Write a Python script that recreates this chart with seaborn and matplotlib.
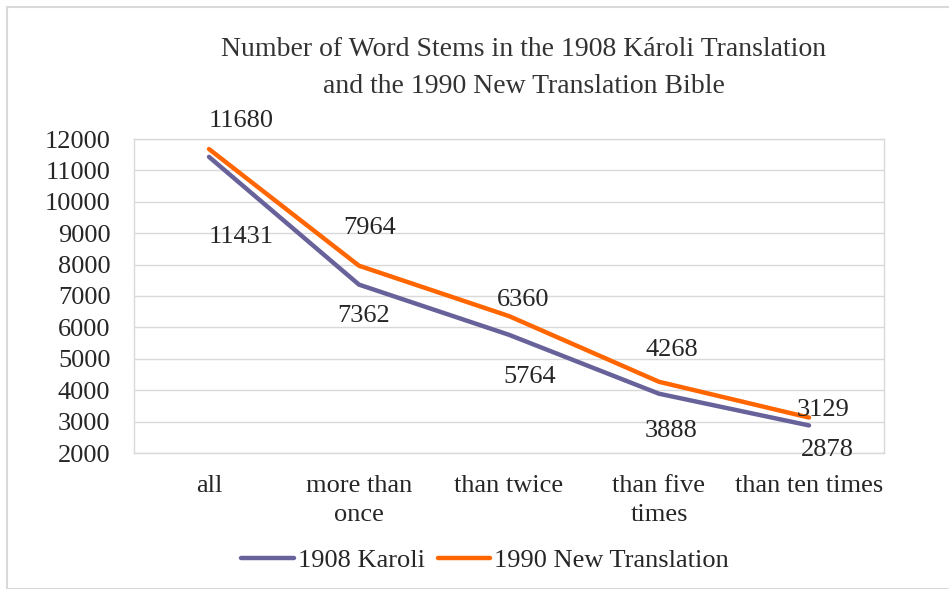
import pandas as pd
import matplotlib.pyplot as plt
import seaborn as sns
from matplotlib.patches import Rectangle

# Data
categories = ['all', 'more than\nonce', 'than twice', 'than five\ntimes', 'than ten times']
karoli = [11431, 7362, 5764, 3888, 2878]
new_translation = [11680, 7964, 6360, 4268, 3129]
series_names = ['1908 Karoli', '1990 New Translation']
colors = ['#67629A', '#FF6600']
y_ticks = [2000, 3000, 4000, 5000, 6000, 7000, 8000, 9000, 10000, 11000, 12000]

# label offsets in pixels (dx, dy)
karoli_offsets = [(32, -80), (5, -31), (21, -42), (12, -37), (18, -25)]
new_offsets = [(32, 28), (11, 38), (14, 16), (13, 32), (14, 8)]

df = pd.DataFrame({
    'category': categories * 2,
    'value': karoli + new_translation,
    'series': [series_names[0]] * len(categories) + [series_names[1]] * len(categories),
})

sns.set_style('white')
plt.rcParams['font.family'] = ['Liberation Serif', 'DejaVu Serif']
fs = 19

fig = plt.figure(figsize=(9.49, 5.89), dpi=100)
ax = fig.add_axes([134 / 949, 1 - 453 / 589, 750 / 949, 314 / 589])

sns.lineplot(data=df, x='category', y='value', hue='series', palette=colors,
             linewidth=3.2, sort=False, ax=ax, legend=True)
ax.set_xlim(-0.5, len(categories) - 0.5)
ax.set_ylim(2000, 12000)
ax.set_yticks(y_ticks)
ax.set_xlabel('')
ax.set_ylabel('')
ax.grid(axis='y', color='#D9D9D9', linewidth=1)
ax.set_axisbelow(True)
for s in ax.spines.values():
    s.set_color('#D9D9D9')
    s.set_linewidth(1)
ax.tick_params(axis='both', length=0, labelsize=fs, colors='#262626')
ax.tick_params(axis='y', pad=17)
ax.tick_params(axis='x', pad=16)
for lbl in ax.get_xticklabels():
    lbl.set_linespacing(1.4)

for i, (v, off) in enumerate(zip(karoli, karoli_offsets)):
    ax.annotate(str(v), (i, v), xytext=off, textcoords='offset pixels',
                ha='center', va='center', fontsize=fs, color='#262626')
for i, (v, off) in enumerate(zip(new_translation, new_offsets)):
    ax.annotate(str(v), (i, v), xytext=off, textcoords='offset pixels',
                ha='center', va='center', fontsize=fs, color='#262626')

ax.legend_.remove()
handles, labels = ax.get_legend_handles_labels()
fig.legend(handles, labels, loc='center', bbox_to_anchor=(485 / 949, 1 - 560 / 589),
           ncol=2, frameon=False, fontsize=fs, handlelength=2.0, handletextpad=0.15,
           columnspacing=0.5, labelcolor='#262626')

fig.text(524 / 949, 1 - 50 / 589, 'Number of Word Stems in the 1908 Károli Translation',
         ha='center', va='center', fontsize=20, color='#333333')
fig.text(524 / 949, 1 - 87 / 589, 'and the 1990 New Translation Bible',
         ha='center', va='center', fontsize=20, color='#333333')

# outer chart border
fig.patches.append(Rectangle((7 / 949, 0), 1, 1 - 7 / 589, transform=fig.transFigure,
                             fill=False, edgecolor='#D9D9D9', linewidth=1.5))

fig.savefig('out.png', dpi=100)
